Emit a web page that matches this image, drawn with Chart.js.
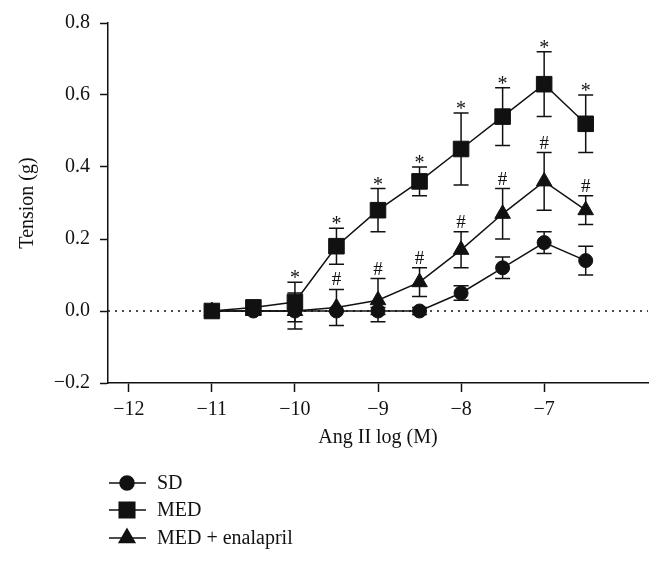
<!DOCTYPE html>
<html>
<head>
<meta charset="utf-8">
<script src="https://cdn.jsdelivr.net/npm/chart.js@4"></script>
<style>
  body { margin: 0; background: #fff; }
  canvas { display: block; }
</style>
</head>
<body>
<canvas id="chart" width="662" height="565"></canvas>
<script>
// DATA
const doses = [-11, -10.5, -10, -9.5, -9, -8.5, -8, -7.5, -7, -6.5];
const sdMean = [0, 0, 0, 0, 0, 0, 0.05, 0.12, 0.19, 0.14];
const sdErr = [0, 0, 0, 0, 0.01, 0.01, 0.02, 0.03, 0.03, 0.04];
const medMean = [0, 0.01, 0.025, 0.18, 0.28, 0.36, 0.45, 0.54, 0.63, 0.52];
const medErr = [0, 0, 0.055, 0.05, 0.06, 0.04, 0.10, 0.08, 0.09, 0.08];
const enaMean = [0, 0, 0, 0.01, 0.03, 0.08, 0.17, 0.27, 0.36, 0.28];
const enaErr = [0, 0, 0.05, 0.05, 0.06, 0.04, 0.05, 0.07, 0.08, 0.04];
const medMarks = ['', '', '*', '*', '*', '*', '*', '*', '*', '*'];
const enaMarks = ['', '', '', '#', '#', '#', '#', '#', '#', '#'];
const xTicks = [-12, -11, -10, -9, -8, -7];
const yTicks = [-0.2, 0, 0.2, 0.4, 0.6, 0.8];
const seriesNames = ['SD', 'MED', 'MED + enalapril'];

const FONT = '"Liberation Serif", "DejaVu Serif", serif';
const INK = '#111';

function minus(s) {
  return s.replace('-', '\u2212');
}

function points(means) {
  return doses.map((d, i) => ({ x: d, y: means[i] }));
}

function lineSet(label, means, errs, marks, style, radius) {
  return {
    label: label,
    data: points(means),
    errors: errs,
    marks: marks,
    borderColor: INK,
    backgroundColor: INK,
    borderWidth: 1.5,
    pointStyle: style,
    pointRadius: radius,
    pointBorderWidth: 1,
    pointBackgroundColor: INK,
    pointBorderColor: INK,
    tension: 0,
  };
}

// error bars + significance marks
const errorBars = {
  id: 'errorBars',
  beforeDatasetsDraw(chart) {
    const ctx = chart.ctx;
    const xs = chart.scales.x, ys = chart.scales.y;
    ctx.save();
    ctx.strokeStyle = INK;
    ctx.lineWidth = 1.5;
    chart.data.datasets.forEach(ds => {
      if (!ds.errors) return;
      ds.data.forEach((p, i) => {
        const e = ds.errors[i];
        if (!e) return;
        const x = xs.getPixelForValue(p.x);
        const top = ys.getPixelForValue(p.y + e);
        const bot = ys.getPixelForValue(p.y - e);
        ctx.beginPath();
        ctx.moveTo(x, top); ctx.lineTo(x, bot);
        ctx.moveTo(x - 7.5, top); ctx.lineTo(x + 7.5, top);
        ctx.moveTo(x - 7.5, bot); ctx.lineTo(x + 7.5, bot);
        ctx.stroke();
      });
    });
    ctx.restore();
  },
  afterDatasetsDraw(chart) {
    const ctx = chart.ctx;
    const xs = chart.scales.x, ys = chart.scales.y;
    ctx.save();
    ctx.fillStyle = INK;
    ctx.textAlign = 'center';
    ctx.textBaseline = 'alphabetic';
    chart.data.datasets.forEach(ds => {
      if (!ds.marks) return;
      ds.data.forEach((p, i) => {
        const m = ds.marks[i];
        if (!m) return;
        const x = xs.getPixelForValue(p.x);
        const top = ys.getPixelForValue(p.y + ds.errors[i]);
        if (m === '*') {
          ctx.font = '20px ' + FONT;
          ctx.fillText(m, x, top + 2);
        } else {
          ctx.font = '19px ' + FONT;
          ctx.fillText(m, x, top - 4);
        }
      });
    });
    ctx.restore();
  }
};

// legend stacked under the x axis
const stackedLegend = {
  id: 'stackedLegend',
  afterDraw(chart) {
    const ctx = chart.ctx;
    const rows = [483, 510, 538];
    ctx.save();
    ctx.font = '20px ' + FONT;
    ctx.fillStyle = INK;
    ctx.textBaseline = 'middle';
    ctx.textAlign = 'left';
    chart.data.datasets.slice(0, 3).forEach((ds, i) => {
      const y = rows[i];
      ctx.strokeStyle = INK;
      ctx.lineWidth = 1.5;
      ctx.beginPath();
      ctx.moveTo(109, y); ctx.lineTo(146, y);
      ctx.stroke();
      Chart.helpers.drawPoint(ctx, {
        pointStyle: ds.pointStyle, radius: ds.pointRadius, borderWidth: 1, rotation: 0
      }, 127, y);
      ctx.fillStyle = INK;
      ctx.fillText(seriesNames[i], 157, y + 1);
    });
    ctx.restore();
  }
};

const ctx = document.getElementById('chart').getContext('2d');
new Chart(ctx, {
  type: 'line',
  data: {
    datasets: [
      lineSet(seriesNames[0], sdMean, sdErr, null, 'circle', 7),
      lineSet(seriesNames[1], medMean, medErr, medMarks, 'rect', 11),
      lineSet(seriesNames[2], enaMean, enaErr, enaMarks, 'triangle', 9),
      {
        label: 'zero',
        data: [{ x: -12.25, y: 0 }, { x: -5.75, y: 0 }],
        borderColor: INK,
        borderWidth: 1.5,
        borderDash: [2, 5],
        pointRadius: 0,
        order: 10,
      }
    ]
  },
  options: {
    responsive: false,
    animation: false,
    devicePixelRatio: 1,
    layout: { padding: { left: 0, top: 23, right: 14, bottom: 0 } },
    plugins: {
      legend: { display: false },
      tooltip: { enabled: false },
    },
    scales: {
      x: {
        type: 'linear',
        min: -12.25,
        max: -5.75,
        afterBuildTicks: axis => { axis.ticks = xTicks.map(v => ({ value: v })); },
        afterFit: axis => { axis.height = 182; },
        grid: { drawOnChartArea: false, drawTicks: true, tickLength: 9, tickWidth: 1.5, tickColor: INK },
        border: { display: true, color: INK, width: 1.5 },
        ticks: {
          color: INK,
          font: { family: FONT, size: 20 },
          padding: 6,
          maxRotation: 0,
          callback: v => minus(String(v)),
        },
        title: {
          display: true,
          text: 'Ang II log (M)',
          color: INK,
          font: { family: FONT, size: 20 },
          padding: { top: 0, bottom: 115 },
        },
      },
      y: {
        type: 'linear',
        min: -0.2,
        max: 0.8,
        afterBuildTicks: axis => { axis.ticks = yTicks.map(v => ({ value: v })); },
        afterFit: axis => { axis.width = 108; },
        grid: { drawOnChartArea: false, drawTicks: true, tickLength: 8, tickWidth: 1.5, tickColor: INK },
        border: { display: true, color: INK, width: 1.5 },
        ticks: {
          color: INK,
          font: { family: FONT, size: 20 },
          padding: 10,
          callback: v => minus(v.toFixed(1)),
        },
        title: {
          display: true,
          text: 'Tension (g)',
          color: INK,
          font: { family: FONT, size: 20 },
          padding: { top: 16, bottom: 0 },
        },
      }
    }
  },
  plugins: [errorBars, stackedLegend]
});
</script>
</body>
</html>
